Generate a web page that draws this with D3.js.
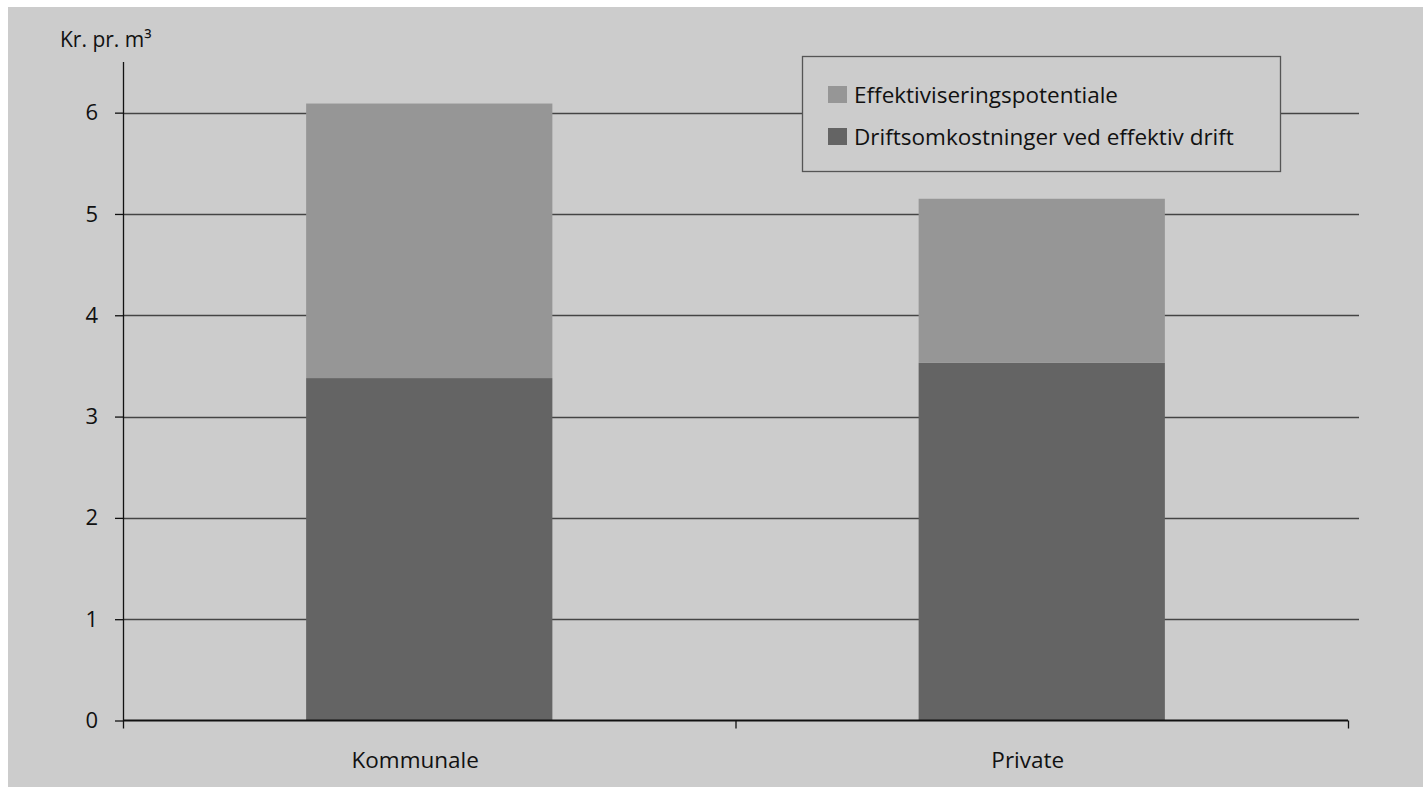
<!DOCTYPE html>
<html>
<head>
<meta charset="utf-8">
<script src="https://cdn.jsdelivr.net/npm/d3@7"></script>
<style>
  body { margin: 0; background: #fff; }
  svg { display: block; }
  text { font-family: "Open Sans", sans-serif; fill: #111; }
</style>
</head>
<body>
<div id="chart"></div>
<script>
// data
const categories = ["Kommunale", "Private"];
const seriesNames = ["Driftsomkostninger ved effektiv drift", "Effektiviseringspotentiale"];
const driftValues = [3.38, 3.53];
const potentialeValues = [2.71, 1.62];
const yTicks = [0, 1, 2, 3, 4, 5, 6];
const yLabel = "Kr. pr. m³";

const W = 1423, H = 787;
const margin = {top: 62, right: 75, bottom: 66.5, left: 123};
const width = W - margin.left - margin.right;
const height = H - margin.top - margin.bottom;

const svg = d3.select("#chart").append("svg")
    .attr("width", W)
    .attr("height", H);

// grey panel, white strip on top and left
svg.append("rect")
    .attr("x", 8).attr("y", 7)
    .attr("width", W - 8).attr("height", H - 7)
    .attr("fill", "#cccccc");

const g = svg.append("g")
    .attr("transform", `translate(${margin.left},${margin.top})`);

const x = d3.scaleBand()
    .domain(categories)
    .range([0, width])
    .paddingInner(0)
    .paddingOuter(0);

const y = d3.scaleLinear()
    .domain([0, 6.5])
    .range([height, 0]);

const color = d3.scaleOrdinal()
    .domain(seriesNames)
    .range(["#646464", "#969696"]);

// gridlines
g.append("g")
    .selectAll("line")
    .data(yTicks.filter(d => d > 0))
    .enter().append("line")
    .attr("x1", 0)
    .attr("x2", width + 11)
    .attr("y1", d => Math.round(y(d)) + 0.5)
    .attr("y2", d => Math.round(y(d)) + 0.5)
    .attr("stroke", "#444")
    .attr("stroke-width", 1.3);

// stacked bars
const table = categories.map((c, i) => ({
    cat: c,
    [seriesNames[0]]: driftValues[i],
    [seriesNames[1]]: potentialeValues[i]
}));
const stacked = d3.stack().keys(seriesNames)(table);

const barW = x.bandwidth() * 0.402;
g.append("g")
    .selectAll("g")
    .data(stacked)
    .enter().append("g")
    .attr("fill", d => color(d.key))
    .selectAll("rect")
    .data(d => d)
    .enter().append("rect")
    .attr("x", d => x(d.data.cat) + (x.bandwidth() - barW) / 2)
    .attr("width", barW)
    .attr("y", d => y(d[1]))
    .attr("height", d => y(d[0]) - y(d[1]));

// y axis
const yAxis = g.append("g")
    .call(d3.axisLeft(y).tickValues(yTicks).tickSize(8).tickPadding(17).tickFormat(d3.format("d")));
yAxis.select(".domain").attr("d", `M0.5,0V${height}`).attr("stroke", "#111").attr("stroke-width", 1.3);
yAxis.selectAll(".tick line").attr("stroke", "#111").attr("stroke-width", 1.3);
yAxis.selectAll(".tick text")
    .attr("font-size", 22)
    .attr("font-family", "Open Sans, sans-serif")
    .attr("fill", "#111");

// x axis: ticks at category boundaries
const xAxis = g.append("g")
    .attr("transform", `translate(0,${height})`);
xAxis.append("line")
    .attr("x1", 0).attr("x2", width)
    .attr("stroke", "#111").attr("stroke-width", 2);
xAxis.selectAll("line.bound")
    .data([0, ...categories.map(c => x(c) + x.bandwidth())])
    .enter().append("line")
    .attr("class", "bound")
    .attr("x1", d => d + 0.5).attr("x2", d => d + 0.5)
    .attr("y1", 0).attr("y2", 8)
    .attr("stroke", "#111").attr("stroke-width", 1.3);
xAxis.selectAll("text")
    .data(categories)
    .enter().append("text")
    .attr("x", d => x(d) + x.bandwidth() / 2 - 14)
    .attr("y", 47)
    .attr("text-anchor", "middle")
    .attr("font-size", 22.5)
    .text(d => d);

// y axis title
svg.append("text")
    .attr("x", 60)
    .attr("y", 47)
    .attr("font-size", 21)
    .text(yLabel);

// legend
const legend = svg.append("g").attr("transform", "translate(802,56)");
legend.append("rect")
    .attr("x", 0.5).attr("y", 0.5)
    .attr("width", 478).attr("height", 115)
    .attr("fill", "#cccccc")
    .attr("stroke", "#555").attr("stroke-width", 1.3);

const items = legend.selectAll("g.item")
    .data(seriesNames.slice().reverse())
    .enter().append("g")
    .attr("class", "item")
    .attr("transform", (d, i) => `translate(26,${30 + i * 42})`);
items.append("rect")
    .attr("width", 19).attr("height", 17)
    .attr("fill", d => color(d));
items.append("text")
    .attr("x", 26)
    .attr("y", 9)
    .attr("dy", "0.35em")
    .attr("font-size", 22.5)
    .text(d => d);
</script>
</body>
</html>
